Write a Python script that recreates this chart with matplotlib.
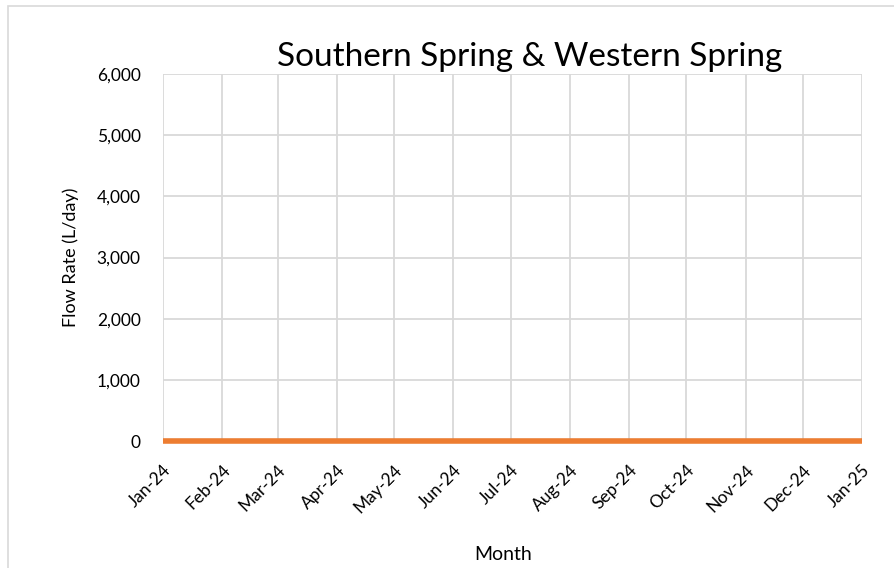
import pandas as pd
import numpy as np
import matplotlib.pyplot as plt
import matplotlib.dates as mdates
from matplotlib.patches import Rectangle

plt.rcParams['font.family'] = ['Lato', 'DejaVu Sans']

# Monthly flow measurements (L/day)
months = ['2024-01-01', '2024-02-01', '2024-03-01', '2024-04-01', '2024-05-01', '2024-06-01',
          '2024-07-01', '2024-08-01', '2024-09-01', '2024-10-01', '2024-11-01', '2024-12-01',
          '2025-01-01']
southern_flow = [0, 0, 0, 0, 0, 0, 0, 0, 0, 0, 0, 0, 0]
western_flow = [0, 0, 0, 0, 0, 0, 0, 0, 0, 0, 0, 0, 0]
y_ticks = [0, 1000, 2000, 3000, 4000, 5000, 6000]

dates = pd.to_datetime(months)

fig = plt.figure(figsize=(8.94, 5.68), dpi=100)
ax = fig.add_axes([163 / 894, 1 - 441 / 568, (862 - 163) / 894, (441 - 74) / 568])

# Chart-area border (cropped on the right and bottom)
fig.patches.append(Rectangle((8 / 894, -0.1), 1.2, 1 - 6 / 568 + 0.1, transform=fig.transFigure,
                             fill=False, edgecolor='#d9d9d9', linewidth=1.2))

grid_color = '#d9d9d9'
ax.plot(dates, southern_flow, color='#4472c4', linewidth=3, solid_capstyle='butt', zorder=3)
ax.plot(dates, western_flow, color='#ed7d31', linewidth=4, solid_capstyle='butt', zorder=4,
        clip_on=False)

ax.set_xlim(dates[0], dates[-1])
ax.set_ylim(0, 6000)
ax.set_yticks(y_ticks)
ax.set_yticklabels([f'{v:,}' for v in y_ticks])
ax.set_xticks(dates)
ax.xaxis.set_major_formatter(mdates.DateFormatter('%b-%y'))
for lbl in ax.get_xticklabels():
    lbl.set_rotation(45)
    lbl.set_ha('right')
    lbl.set_rotation_mode('anchor')

ax.grid(True, color=grid_color, linewidth=1.3)
ax.set_axisbelow(True)
for side in ['top', 'right', 'left', 'bottom']:
    ax.spines[side].set_visible(False)
ax.tick_params(length=0, labelsize=12.5, colors='black')
ax.tick_params(axis='y', pad=16)
ax.tick_params(axis='x', pad=15)

ax.set_title('Southern Spring & Western Spring', fontsize=24, pad=6, x=0.525)
ax.set_ylabel('Flow Rate (L/day)', fontsize=13, labelpad=13)
ax.set_xlabel('Month', fontsize=14, labelpad=22, x=0.487)

plt.savefig('out.png', dpi=100)
